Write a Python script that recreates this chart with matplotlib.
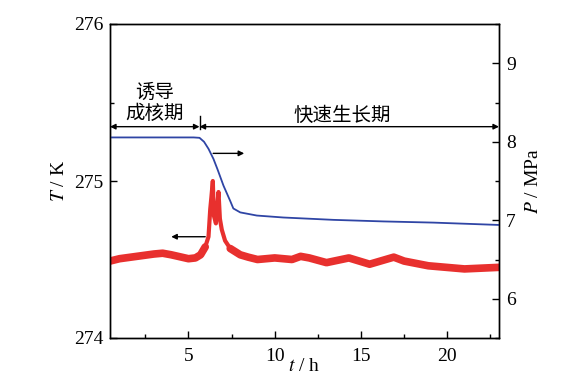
import matplotlib

matplotlib.use("Agg")
import matplotlib.pyplot as plt
from matplotlib.ticker import MultipleLocator

plt.rcParams["font.family"] = ["Liberation Serif", "Noto Sans CJK SC"]
plt.rcParams["mathtext.fontset"] = "stix"

# temperature (left axis), t in h, T in K -- centre line of the noisy trace
t_temp = [0.45, 1.0, 2.0, 3.0, 3.5, 4.0, 4.6, 5.0, 5.4, 5.7, 5.97, 6.16, 6.26, 6.33,
          6.41, 6.47, 6.59, 6.67, 6.74, 6.82, 6.93, 7.12, 7.42, 8.0, 8.46, 9.0,
          10.0, 11.0, 11.5, 12.0, 13.0, 14.3, 15.5, 16.9, 17.5, 18.9, 21.0, 23.0]
T_temp = [274.49, 274.505, 274.52, 274.535, 274.54, 274.53, 274.515, 274.505, 274.51,
          274.53, 274.58, 274.645, 274.82, 274.9, 275.0, 274.78, 274.73, 274.85,
          274.93, 274.76, 274.69, 274.62, 274.57, 274.53, 274.515, 274.5,
          274.51, 274.5, 274.52, 274.51, 274.48, 274.51, 274.47, 274.515, 274.49,
          274.46, 274.44, 274.45]
spike_from, spike_to = 10, 22   # index range of the nucleation spikes

# pressure (right axis), MPa
t_pres = [0.45, 2.0, 4.0, 5.3, 5.64, 5.9, 6.16, 6.45, 6.68, 7.03, 7.42, 7.6, 8.0,
          8.96, 10.5, 13.4, 16.3, 19.2, 23.0]
P_pres = [8.055, 8.055, 8.055, 8.055, 8.05, 8.0, 7.91, 7.78, 7.65, 7.44, 7.245, 7.15,
          7.1, 7.06, 7.035, 7.005, 6.985, 6.97, 6.94]

stage_split = 5.64
stage_labels = ["诱导\n成核期", "快速生长期"]

red = "#e8302e"
blue = "#2f45a5"

fig = plt.figure(figsize=(5.76, 3.87), dpi=100)
ax = fig.add_axes([110 / 576, 49 / 387, 389 / 576, 314 / 387])
ax2 = ax.twinx()

# thick band for the noisy baseline, thinner where the spikes are
ax.plot(t_temp[:spike_from + 1], T_temp[:spike_from + 1], color=red, lw=5.5,
        solid_capstyle="round", zorder=2)
ax.plot(t_temp[spike_to:], T_temp[spike_to:], color=red, lw=5.5,
        solid_capstyle="round", zorder=2)
ax.plot(t_temp[spike_from - 1:spike_to + 1], T_temp[spike_from - 1:spike_to + 1],
        color=red, lw=3, solid_capstyle="round", zorder=2)
ax2.plot(t_pres, P_pres, color=blue, lw=1.3)

ax.set_xlim(0.45, 23)
ax.set_ylim(274, 276)
ax2.set_ylim(5.5, 9.5)

ax.xaxis.set_major_locator(MultipleLocator(5))
ax.xaxis.set_minor_locator(MultipleLocator(2.5))
ax.yaxis.set_major_locator(MultipleLocator(1))
ax.yaxis.set_minor_locator(MultipleLocator(0.5))
ax2.yaxis.set_major_locator(MultipleLocator(1))
ax2.yaxis.set_minor_locator(MultipleLocator(0.5))

for a in (ax, ax2):
    a.tick_params(which="both", direction="in", labelsize=14, width=1)
    a.tick_params(which="major", length=5)
    a.tick_params(which="minor", length=3)
    for s in a.spines.values():
        s.set_linewidth(1)
ax.tick_params(axis="y", pad=5)
ax.tick_params(axis="x", pad=7)
ax2.tick_params(axis="y", pad=5)

ax.set_xlabel("$t$ / h", fontsize=14)
ax.set_ylabel("$T$ / K", fontsize=14)
ax2.set_ylabel("$P$ / MPa", fontsize=14)
ax.yaxis.set_label_coords(-0.108, 0.5)
ax2.yaxis.set_label_coords(1.067, 0.5)
ax.xaxis.set_label_coords(0.5, -0.064)

# stage markers
arr = dict(arrowstyle="<|-|>", mutation_scale=8, lw=1, color="black",
           shrinkA=0, shrinkB=0)
y_arr = 275.346
ax.annotate("", xy=(0.45, y_arr), xytext=(stage_split, y_arr), arrowprops=arr)
ax.annotate("", xy=(stage_split, y_arr), xytext=(23, y_arr), arrowprops=arr)
ax.plot([stage_split, stage_split], [275.33, 275.414], color="black", lw=1)

cjk = ["Noto Sans CJK SC"]
ax.text(3.05, 275.5, stage_labels[0], ha="center", va="center", fontsize=14,
        family=cjk, linespacing=1.0)
ax.text(13.9, 275.42, stage_labels[1], ha="center", va="center", fontsize=14,
        family=cjk)

# which axis each curve belongs to
one = dict(arrowstyle="-|>", mutation_scale=8, lw=1, color="black",
           shrinkA=0, shrinkB=0)
ax.annotate("", xy=(8.23, 275.176), xytext=(6.43, 275.176), arrowprops=one)
ax.annotate("", xy=(4.0, 274.645), xytext=(5.97, 274.645), arrowprops=one)

fig.savefig("out.png", dpi=100)
